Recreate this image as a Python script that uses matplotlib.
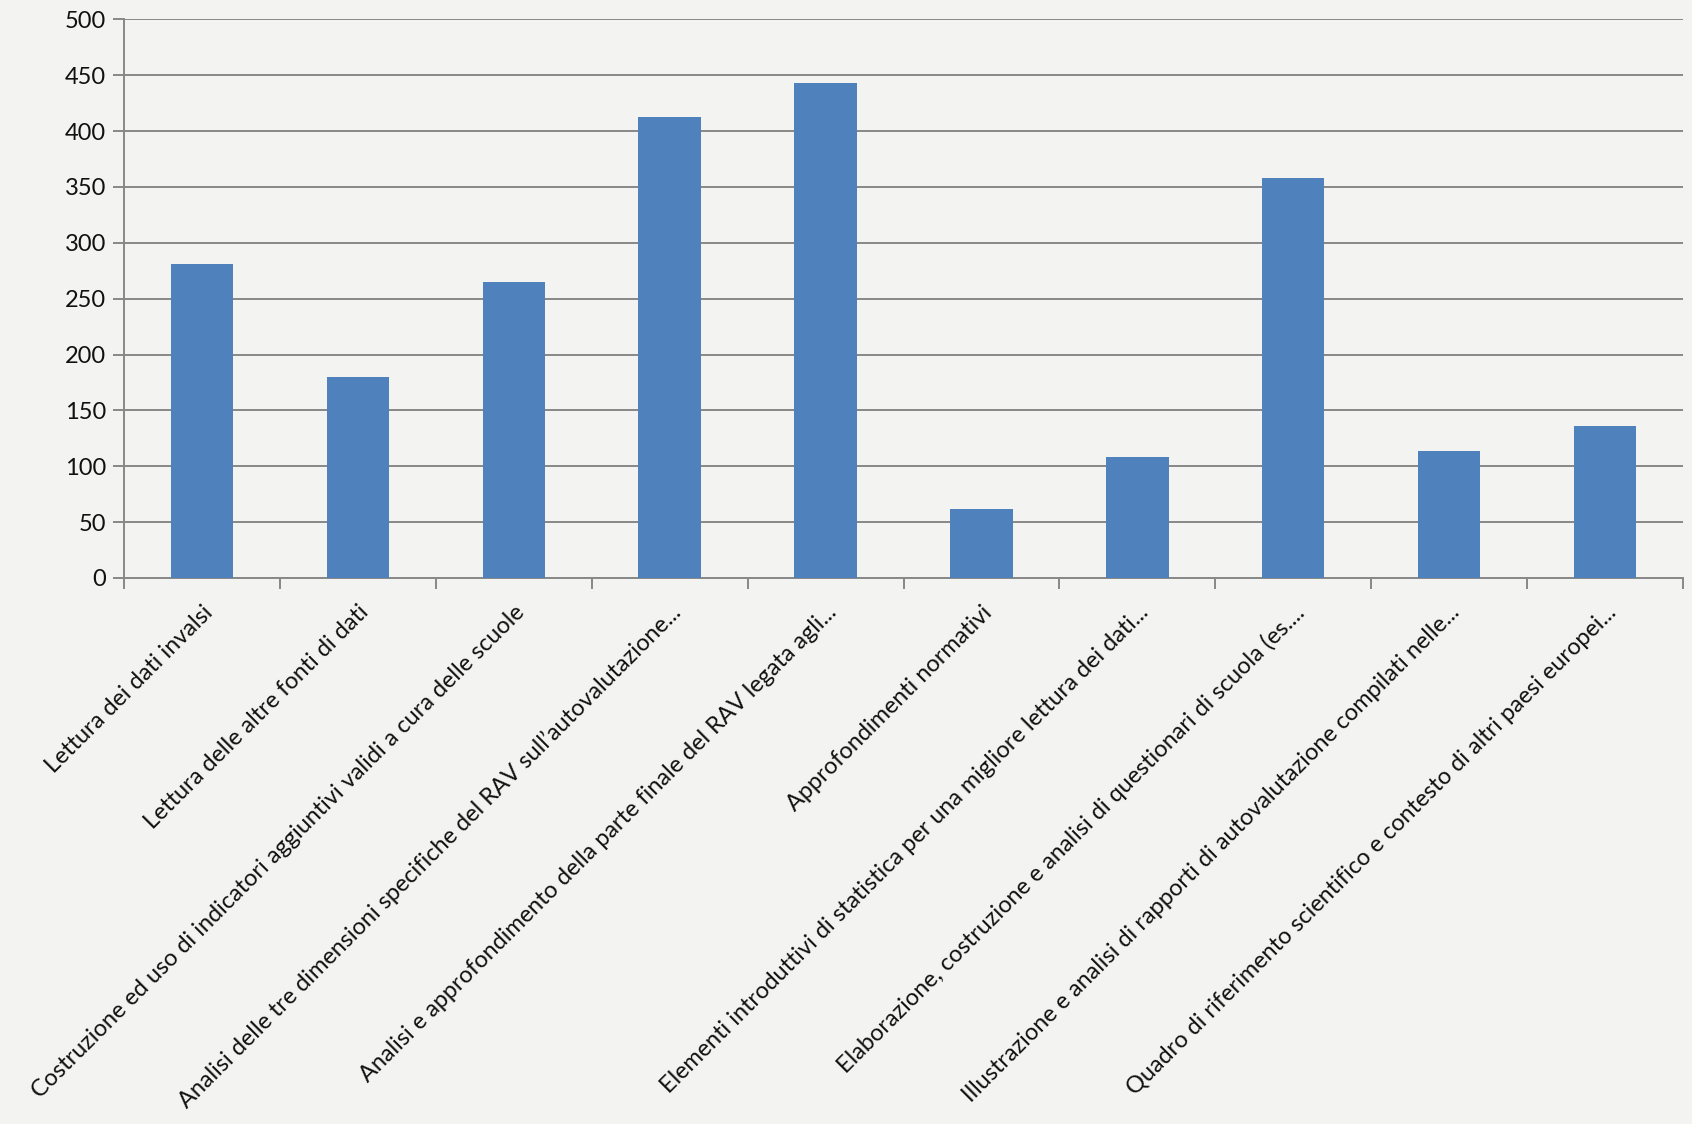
import numpy as np
import matplotlib.pyplot as plt

categorie = [
    "Lettura dei dati invalsi",
    "Lettura delle altre fonti di dati",
    "Costruzione ed uso di indicatori aggiuntivi validi a cura delle scuole",
    "Analisi delle tre dimensioni specifiche del RAV sull\u2019autovalutazione...",
    "Analisi e approfondimento della parte finale del RAV legata agli...",
    "Approfondimenti normativi",
    "Elementi introduttivi di statistica per una migliore lettura dei dati...",
    "Elaborazione, costruzione e analisi di questionari di scuola (es....",
    "Illustrazione e analisi di rapporti di autovalutazione compilati nelle...",
    "Quadro di riferimento scientifico e contesto di altri paesi europei...",
]
valori = [281, 180, 265, 413, 443, 62, 108, 358, 114, 136]
yticks = [0, 50, 100, 150, 200, 250, 300, 350, 400, 450, 500]

plt.rcParams['font.family'] = ['Lato', 'DejaVu Sans']

fig = plt.figure(figsize=(16.92, 11.24), dpi=100)
fig.patch.set_facecolor('#f3f3f2')
ax = fig.add_axes([0.0733, 0.4858, 0.9214, 0.4969])
ax.set_facecolor('#f3f3f2')

x = np.arange(len(categorie))
ax.bar(x, valori, width=0.4, color='#4f81bd', zorder=3)

ax.set_xlim(-0.5, len(categorie) - 0.5)
ax.set_ylim(0, 500)
ax.set_yticks(yticks)
ax.yaxis.grid(True, color='#888888', linewidth=1.4, zorder=0)

ax.set_xticks(x)
ax.set_xticklabels(categorie, rotation=45, ha='right', va='top',
                   rotation_mode='anchor', fontsize=16.9, color='#111111')
ax.tick_params(axis='x', length=0, pad=17)
ax.set_xticks(np.arange(-0.5, len(categorie)), minor=True)
ax.tick_params(axis='x', which='minor', length=8, width=1.4, color='#888888')
ax.tick_params(axis='y', length=8, width=1.4, color='#888888',
               labelsize=17, labelcolor='#111111', pad=5)

for s in ['top', 'right']:
    ax.spines[s].set_visible(False)
for s in ['left', 'bottom']:
    ax.spines[s].set_color('#888888')
    ax.spines[s].set_linewidth(1.4)

fig.savefig('out.png', dpi=100, facecolor=fig.get_facecolor())
